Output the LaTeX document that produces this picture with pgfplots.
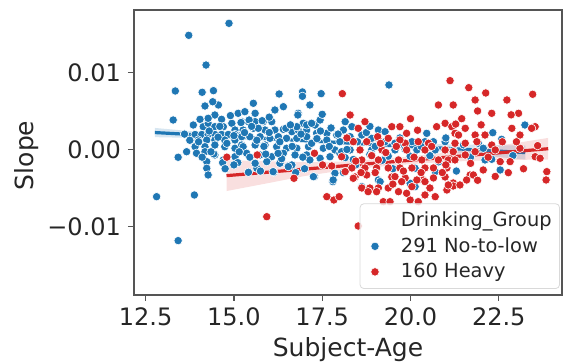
\documentclass[border=0pt]{standalone}
\usepackage{fontspec}
\setmainfont{DejaVu Sans}
\usepackage{pgfplots}
\usepackage{pgfplotstable}
\pgfplotsset{compat=1.18}
\definecolor{sbblue}{RGB}{31,119,180}
\definecolor{sbred}{RGB}{214,39,40}
\definecolor{spine}{RGB}{85,85,85}
\pgfplotsset{dotlegend/.style={legend image code/.code={\path[draw=none,fill=none] (-5.5pt,0) (11pt,0); \draw[##1, fill opacity=1, draw opacity=1] plot coordinates {(0pt,0pt)};}}}
\pgfplotstableread{
x y
13.34 0.00760
13.72 0.01483
14.21 0.01097
14.86 0.01639
14.10 0.00743
14.42 0.00764
16.28 0.00721
16.94 0.00747
16.94 0.00691
17.47 0.00725
19.39 0.00838
14.18 0.00565
14.56 0.00578
13.28 0.00383
14.04 0.00392
14.46 0.00448
14.65 0.00392
14.94 0.00340
15.12 0.00470
13.85 0.00318
14.13 0.00296
14.27 0.00340
14.46 0.00296
14.70 0.00296
15.03 0.00253
13.90 0.00195
14.09 0.00195
14.27 0.00195
14.46 0.00195
14.65 0.00195
14.84 0.00195
15.03 0.00195
15.22 0.00195
13.99 0.00123
14.23 0.00123
14.46 0.00123
14.74 0.00123
15.03 0.00123
13.90 0.00036
14.18 0.00036
14.46 0.00058
14.74 0.00036
15.03 0.00016
15.22 0.00058
13.66 -0.00029
13.42 -0.00101
13.94 -0.00049
14.18 -0.00029
14.46 -0.00071
14.70 -0.00136
15.03 -0.00094
14.23 -0.00158
14.23 -0.00244
14.27 -0.00331
12.81 -0.00613
13.88 -0.00591
13.42 -0.01184
14.43 -0.00058
14.68 -0.00171
15.11 -0.00171
15.41 -0.00296
15.65 -0.00244
16.13 -0.00296
16.54 -0.00214
17.28 -0.00353
17.80 -0.00418
17.86 -0.00309
15.55 0.00600
16.16 0.00513
16.40 0.00556
17.15 0.00578
15.31 0.00491
15.60 0.00470
15.22 0.00361
15.41 0.00361
15.60 0.00361
15.83 0.00361
16.07 0.00361
16.82 0.00470
16.96 0.00340
17.30 0.00318
17.44 0.00383
15.26 0.00253
15.55 0.00275
15.88 0.00253
16.16 0.00253
16.40 0.00262
16.64 0.00231
16.82 0.00253
17.06 0.00253
17.34 0.00210
17.63 0.00210
17.91 0.00188
18.10 0.00253
15.22 0.00166
15.45 0.00166
15.74 0.00166
16.02 0.00145
16.26 0.00166
16.49 0.00145
16.78 0.00145
17.06 0.00166
17.34 0.00145
17.63 0.00123
18.00 0.00101
15.26 0.00036
15.60 0.00058
15.88 0.00058
16.21 0.00036
16.49 0.00016
16.78 0.00016
17.11 0.00036
17.53 0.00016
17.86 -0.00006
15.36 -0.00049
15.74 -0.00071
16.07 -0.00094
16.40 -0.00049
16.73 -0.00071
17.06 -0.00071
17.44 -0.00114
17.72 -0.00094
18.00 -0.00049
15.60 -0.00179
15.93 -0.00158
16.30 -0.00179
16.64 -0.00201
17.15 -0.00136
16.11 -0.00288
16.54 -0.00223
17.25 -0.00353
17.81 -0.00396
14.27 0.00405
15.43 0.00383
15.69 0.00275
15.80 0.00374
16.81 0.00448
17.50 0.00457
17.06 0.00318
17.20 0.00340
16.47 0.00275
16.78 0.00296
18.15 0.00361
18.34 0.00296
19.09 0.00253
19.28 0.00231
20.46 0.00210
18.29 0.00166
18.62 0.00188
18.90 0.00145
19.28 0.00101
19.56 0.00081
20.04 0.00101
20.41 0.00101
20.65 0.00101
20.98 0.00101
18.29 -0.00006
18.90 -0.00006
19.56 -0.00006
20.18 -0.00006
20.70 -0.00006
21.21 -0.00006
18.15 -0.00106
18.38 -0.00130
18.85 -0.00065
19.37 -0.00087
19.99 -0.00087
20.13 -0.00244
20.70 -0.00288
19.09 -0.00396
19.99 -0.00439
20.13 -0.00483
18.05 -0.00029
18.90 -0.00071
18.62 -0.00483
19.14 -0.00418
23.24 0.00318
22.33 0.00218
22.58 0.00132
21.92 0.00081
22.06 0.00016
22.11 -0.00136
22.30 -0.00127
22.54 -0.00266
14.00 0.00100
14.30 0.00240
14.55 0.00160
14.80 0.00080
15.00 0.00180
15.15 -0.00030
14.35 -0.00030
14.60 0.00300
14.90 0.00440
15.30 0.00220
15.50 0.00300
15.65 0.00120
15.85 0.00040
16.00 0.00220
16.30 0.00100
16.60 0.00320
16.90 0.00200
17.20 0.00080
17.45 0.00240
17.70 0.00040
17.95 0.00200
18.20 0.00000
18.50 0.00100
18.75 0.00220
19.00 0.00040
19.70 0.00150
19.85 0.00000
20.30 0.00040
20.55 -0.00080
21.00 0.00150
21.50 0.00060
21.70 -0.00100
15.90 -0.00060
16.35 -0.00120
16.95 -0.00100
17.50 -0.00200
15.00 -0.00200
14.75 -0.00250
13.60 0.00200
13.75 0.00120
14.10 -0.00100
15.45 -0.00100
16.65 0.00040
17.35 0.00140
18.45 -0.00200
19.20 -0.00140
14.40 0.00620
16.00 0.00420
17.75 0.00280
18.85 0.00300
15.20 0.00350
16.25 -0.00050
16.75 -0.00300
15.75 -0.00280
17.00 -0.00250
18.10 -0.00300
19.50 -0.00250
20.80 -0.00160
21.30 -0.00280
22.90 -0.00080
}\bluedata
\pgfplotstableread{
x y
18.07 0.00725
21.12 0.00894
21.65 0.00803
22.13 0.00734
23.46 0.00717
21.83 0.00643
22.73 0.00643
15.93 -0.00873
16.70 -0.00374
17.28 -0.00049
17.63 -0.00613
17.83 -0.00656
17.98 -0.00613
17.51 -0.00201
17.77 -0.00214
15.66 -0.00071
14.80 -0.00100
18.29 0.00448
18.05 -0.00094
18.71 0.00361
18.52 0.00275
19.47 0.00296
19.70 0.00296
19.89 0.00210
20.79 0.00578
20.98 0.00340
21.17 0.00296
21.26 0.00210
20.74 0.00296
18.38 0.00101
18.76 0.00101
19.09 0.00145
19.37 0.00145
20.22 0.00101
20.51 0.00081
19.85 0.00081
18.57 -0.00006
19.19 -0.00006
19.89 -0.00006
20.41 -0.00006
20.98 -0.00006
18.62 -0.00136
19.09 -0.00136
19.66 -0.00136
20.32 -0.00136
20.79 -0.00136
21.07 -0.00136
18.34 -0.00240
18.71 -0.00240
19.04 -0.00240
19.37 -0.00240
19.70 -0.00240
20.04 -0.00240
20.41 -0.00240
20.65 -0.00240
21.03 -0.00240
18.43 -0.00357
18.76 -0.00331
19.47 -0.00357
19.85 -0.00370
20.36 -0.00396
20.65 -0.00370
20.98 -0.00357
21.21 -0.00435
18.62 -0.00500
18.85 -0.00500
19.09 -0.00500
19.37 -0.00500
19.66 -0.00548
20.04 -0.00483
20.41 -0.00591
20.70 -0.00613
21.03 -0.00526
21.21 0.00578
22.30 0.00470
23.06 0.00470
21.28 0.00330
21.55 0.00275
21.36 0.00188
21.83 0.00188
22.11 0.00188
22.87 0.00275
23.10 0.00188
23.53 0.00296
23.43 0.00275
21.26 0.00081
21.55 0.00081
21.88 0.00101
22.30 0.00058
22.40 -0.00006
23.10 0.00016
21.21 -0.00029
21.55 -0.00071
21.83 -0.00029
21.26 -0.00136
22.54 -0.00158
22.82 -0.00158
23.53 -0.00094
23.67 -0.00114
22.06 -0.00266
22.77 -0.00301
21.69 -0.00331
21.59 -0.00396
23.86 -0.00288
23.84 -0.00396
21.21 -0.00474
19.23 -0.00678
19.42 -0.00678
19.99 -0.00656
20.22 -0.00678
18.52 -0.00994
18.80 -0.00548
19.04 -0.00548
18.15 -0.00288
18.38 -0.00374
19.89 -0.00569
19.56 -0.00353
19.75 -0.00418
20.18 -0.00396
20.41 -0.00418
21.07 -0.00461
21.40 -0.00461
21.78 -0.00331
19.70 0.00123
19.07 0.00166
18.90 -0.00080
19.30 -0.00040
19.60 0.00040
20.10 -0.00100
20.60 0.00040
21.00 -0.00200
21.70 -0.00180
22.20 -0.00100
22.60 0.00100
23.20 -0.00250
23.00 0.00100
18.45 -0.00150
19.00 -0.00300
19.80 -0.00280
20.30 -0.00300
20.90 -0.00300
21.90 -0.00400
22.40 -0.00350
23.60 0.00050
22.00 0.00320
21.45 0.00400
20.20 0.00250
19.15 0.00080
18.20 0.00150
18.60 -0.00300
20.55 -0.00500
19.50 -0.00450
22.85 0.00450
21.90 0.00500
20.00 0.00400
}\reddata
\begin{document}
\begin{tikzpicture}
\useasboundingbox (-67pt,-33.5pt) rectangle (215pt,147.5pt);
\begin{axis}[
 scale only axis, width=214pt, height=142.5pt,
 xmin=12.17, xmax=24.29, ymin=-0.0189, ymax=0.01812,
 axis line style={spine, line width=0.7pt},
 xtick={12.5,15,17.5,20,22.5}, xticklabels={12.5,15.0,17.5,20.0,22.5},
 ytick={-0.01,0,0.01}, yticklabels={−0.01,0.00,0.01},
 scaled y ticks=false,
 tick align=outside, tick pos=left, major tick length=3pt,
 tick style={spine, line width=0.6pt},
 ticklabel style={font=\fontsize{12}{14}\selectfont, text=black!85},
 xlabel={Subject-Age}, ylabel={Slope},
 label style={font=\fontsize{12.5}{15}\selectfont, text=black!85},
 xlabel style={at={(axis description cs:0.5,-0.19)}, anchor=center},
 ylabel style={at={(axis description cs:-0.251,0.49)}, anchor=center},
 legend style={at={(axis description cs:1,0)}, anchor=south east, xshift=-1pt, yshift=3pt,
   fill=white, fill opacity=0.8, text opacity=1, draw=black!15, rounded corners=2pt,
   font=\fontsize{9.7}{11.5}\selectfont, text=black!85, inner sep=2pt},
 legend cell align=left,
]
\addlegendimage{empty legend}
\addlegendentry{Drinking\_Group}
\addlegendimage{only marks, mark=*, mark size=2.1pt, mark options={draw=white, line width=0.3pt, fill=sbblue}, dotlegend}
\addlegendentry{291 No-to-low}
\addlegendimage{only marks, mark=*, mark size=2.1pt, mark options={draw=white, line width=0.3pt, fill=sbred}, dotlegend}
\addlegendentry{160 Heavy}

\addplot[forget plot, only marks, mark=*, mark size=2.1pt, mark options={draw=white, line width=0.3pt, fill=sbblue}] table[x=x,y=y] {\bluedata};
\addplot[forget plot, only marks, mark=*, mark size=2.1pt, mark options={draw=white, line width=0.3pt, fill=sbred}] table[x=x,y=y] {\reddata};

% blue CI band and regression line
\addplot[forget plot, draw=none, fill=sbblue, fill opacity=0.18] coordinates {
(12.76,0.00280) (14,0.00229) (15,0.00194) (16,0.00165) (17,0.00140) (18,0.00115) (19,0.00095) (20,0.00081) (21,0.00066) (22,0.00061) (23.25,0.00050)
(23.25,-0.00130) (22,-0.00079) (21,-0.00034) (20,0.00001) (19,0.00035) (18,0.00065) (17,0.00090) (16,0.00115) (15,0.00134) (14,0.00149) (12.76,0.00160)
} -- cycle;
\addplot[forget plot, sbblue, line width=1.6pt] coordinates {(12.76,0.00220) (23.25,-0.00040)};

% red CI band and regression line
\addplot[forget plot, draw=none, fill=sbred, fill opacity=0.15] coordinates {
(14.79,-0.00140) (16,-0.00154) (17,-0.00165) (18,-0.00157) (19,-0.00128) (20,-0.00090) (21,-0.00041) (22,0.00017) (23,0.00085) (23.9,0.00150)
(23.9,-0.00130) (23,-0.00135) (22,-0.00143) (21,-0.00161) (20,-0.00190) (19,-0.00228) (18,-0.00277) (17,-0.00345) (16,-0.00434) (14.79,-0.00540)
} -- cycle;
\addplot[forget plot, sbred, line width=1.6pt] coordinates {(14.79,-0.00340) (23.9,0.00010)};
\end{axis}
\end{tikzpicture}
\end{document}
